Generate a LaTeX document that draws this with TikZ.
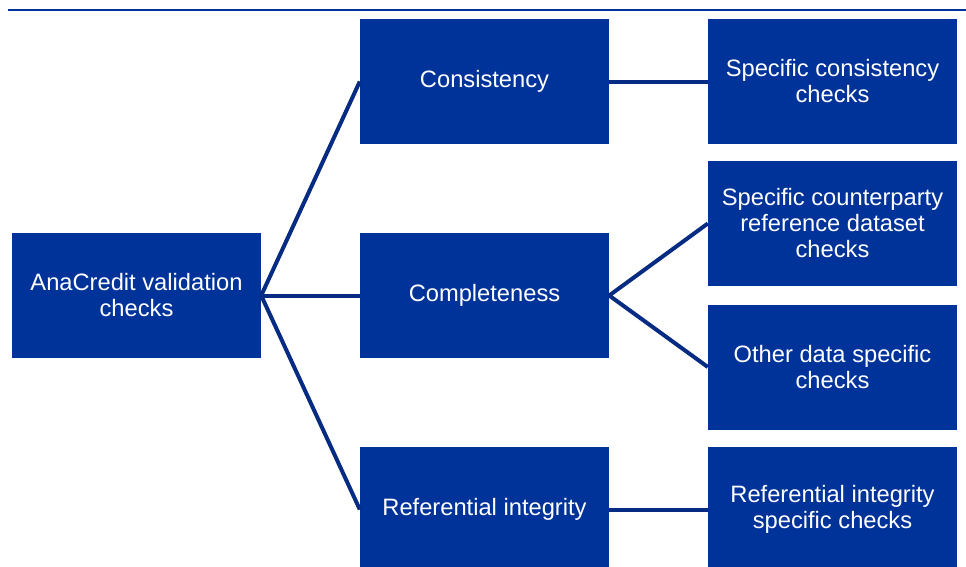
\documentclass[tikz,border=0pt]{standalone}
\usepackage{fontspec}
\setmainfont{Liberation Sans}
\definecolor{boxblue}{HTML}{003399}
\definecolor{lineblue}{HTML}{062B82}
\tikzset{
  box/.style={fill=boxblue, text=white, minimum width=249pt, minimum height=125pt,
    inner sep=0pt, align=center, font=\fontsize{23.7}{26}\selectfont},
  link/.style={draw=lineblue, line width=4pt}
}
\begin{document}
\begin{tikzpicture}[x=1pt,y=-1pt]
\useasboundingbox (0,0) rectangle (966,566);
\clip (0,0) rectangle (966,566);
\fill[white] (0,0) rectangle (966,566);
\coordinate (tl) at (8,10);
\coordinate (tr) at (966,10);
\draw[draw=boxblue, line width=2.5pt] (tl) -- (tr);
\node[box] (L) at (136.5,295.5) {AnaCredit validation\\checks};
\node[box] (M1) at (484.5,81.5) {Consistency};
\node[box] (M2) at (484.5,295.5) {Completeness};
\node[box] (M3) at (484.5,509.5) {Referential integrity};
\node[box] (R1) at (832.5,81.5) {Specific consistency\\checks};
\node[box] (R2) at (832.5,223.5) {Specific counterparty\\reference dataset\\checks};
\node[box] (R3) at (832.5,367) {Other data specific\\checks};
\node[box] (R4) at (832.5,509.5) {Referential integrity\\specific checks};
\draw[link] (L.east) -- (M1.west);
\draw[link] (L.east) -- (M2.west);
\draw[link] (L.east) -- (M3.west);
\draw[link] (M1.east) -- (R1.west);
\draw[link] (M2.east) -- (R2.west);
\draw[link] (M2.east) -- (R3.west);
\draw[link] (M3.east) -- (R4.west);
\end{tikzpicture}
\end{document}
